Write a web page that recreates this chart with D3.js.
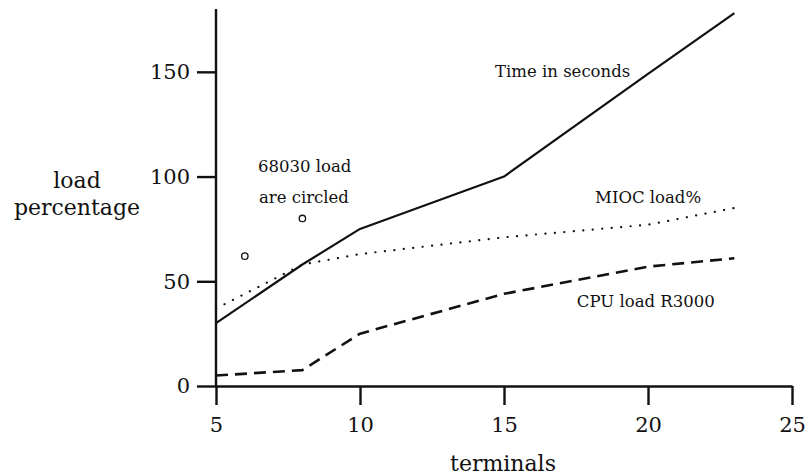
<!DOCTYPE html>
<html>
<head>
<meta charset="utf-8">
<script src="https://cdn.jsdelivr.net/npm/d3@7/dist/d3.min.js"></script>
<style>
  html, body { margin: 0; padding: 0; background: #fff; }
  svg { display: block; }
  text { font-family: "DejaVu Serif", serif; fill: #111; }
</style>
</head>
<body>
<svg id="chart" width="805" height="475"></svg>
<script>
// ---- data ----
const terminals = [5, 8, 10, 15, 20, 23];
const timeSeconds = [30, 58, 75, 100, 149, 178];
const miocLoad = [37, 58, 63, 71, 77, 85];
const cpuLoadR3000 = [5, 7.6, 25, 44, 57, 61];
const circled68030 = [[6, 62], [8, 80]];
const xTicks = [5, 10, 15, 20, 25];
const yTicks = [0, 50, 100, 150];
const labels = [
  { text: "Time in seconds", x: 14.69, y: 147.5 },
  { text: "MIOC load%", x: 18.16, y: 87.4 },
  { text: "68030 load", x: 6.46, y: 102.2 },
  { text: "are circled", x: 6.49, y: 87.4 },
  { text: "CPU load R3000", x: 17.53, y: 37.7 }
];

// ---- layout ----
const svg = d3.select("#chart");
const x = d3.scaleLinear().domain([5, 25]).range([216, 792]);
const y = d3.scaleLinear().domain([0, 180]).range([386, 9]);
const ink = "#111";

// axes
const xAxis = d3.axisBottom(x).tickValues(xTicks).tickSize(19).tickSizeOuter(0).tickPadding(10);
const yAxis = d3.axisLeft(y).tickValues(yTicks).tickSize(19).tickSizeOuter(0).tickPadding(7);

const gx = svg.append("g").attr("transform", `translate(0,${y(0)})`).call(xAxis);
const gy = svg.append("g").attr("transform", `translate(${x(5)},0)`).call(yAxis);

[gx, gy].forEach(g => {
  g.select(".domain").attr("stroke", ink).attr("stroke-width", 2.4);
  g.selectAll(".tick line").attr("stroke", ink).attr("stroke-width", 2.4);
  g.selectAll(".tick text")
    .attr("fill", ink)
    .style("font-family", '"DejaVu Serif", serif')
    .style("font-size", "21px");
});
gy.select(".domain").attr("d", `M0,${y(0)}V${y(180)}`);
gx.selectAll(".tick text").attr("dy", "0.8em");

// lines
const ptsTime = terminals.map((t, i) => [t, timeSeconds[i]]);
const ptsMioc = terminals.map((t, i) => [t, miocLoad[i]]);
const ptsCpu = terminals.map((t, i) => [t, cpuLoadR3000[i]]);

const lineLin = d3.line().x(d => x(d[0])).y(d => y(d[1]));

svg.append("path").datum(ptsTime).attr("d", lineLin)
  .attr("fill", "none").attr("stroke", ink).attr("stroke-width", 2.2)
  .attr("stroke-linejoin", "round");

svg.append("path").datum(ptsMioc).attr("d", lineLin)
  .attr("fill", "none").attr("stroke", ink).attr("stroke-width", 2.2)
  .attr("stroke-linecap", "round").attr("stroke-dasharray", "0.1 9.4");

svg.append("path").datum(ptsCpu).attr("d", lineLin)
  .attr("fill", "none").attr("stroke", ink).attr("stroke-width", 2.6)
  .attr("stroke-linejoin", "round")
  .attr("stroke-dasharray", "12 7");

// circled points
svg.selectAll("circle.c68030").data(circled68030).enter().append("circle")
  .attr("class", "c68030")
  .attr("cx", d => x(d[0])).attr("cy", d => y(d[1])).attr("r", 3.2)
  .attr("fill", "none").attr("stroke", ink).attr("stroke-width", 1.3);

// annotations
svg.selectAll("text.ann").data(labels).enter().append("text")
  .attr("class", "ann")
  .attr("x", d => x(d.x)).attr("y", d => y(d.y))
  .style("font-size", "16.5px")
  .text(d => d.text);

// axis titles
svg.append("text").attr("x", 77).attr("y", 188).attr("text-anchor", "middle")
  .style("font-size", "22px").text("load");
svg.append("text").attr("x", 77).attr("y", 215).attr("text-anchor", "middle")
  .style("font-size", "22px").text("percentage");
svg.append("text").attr("x", 503).attr("y", 471).attr("text-anchor", "middle")
  .style("font-size", "22px").text("terminals");
</script>
</body>
</html>
